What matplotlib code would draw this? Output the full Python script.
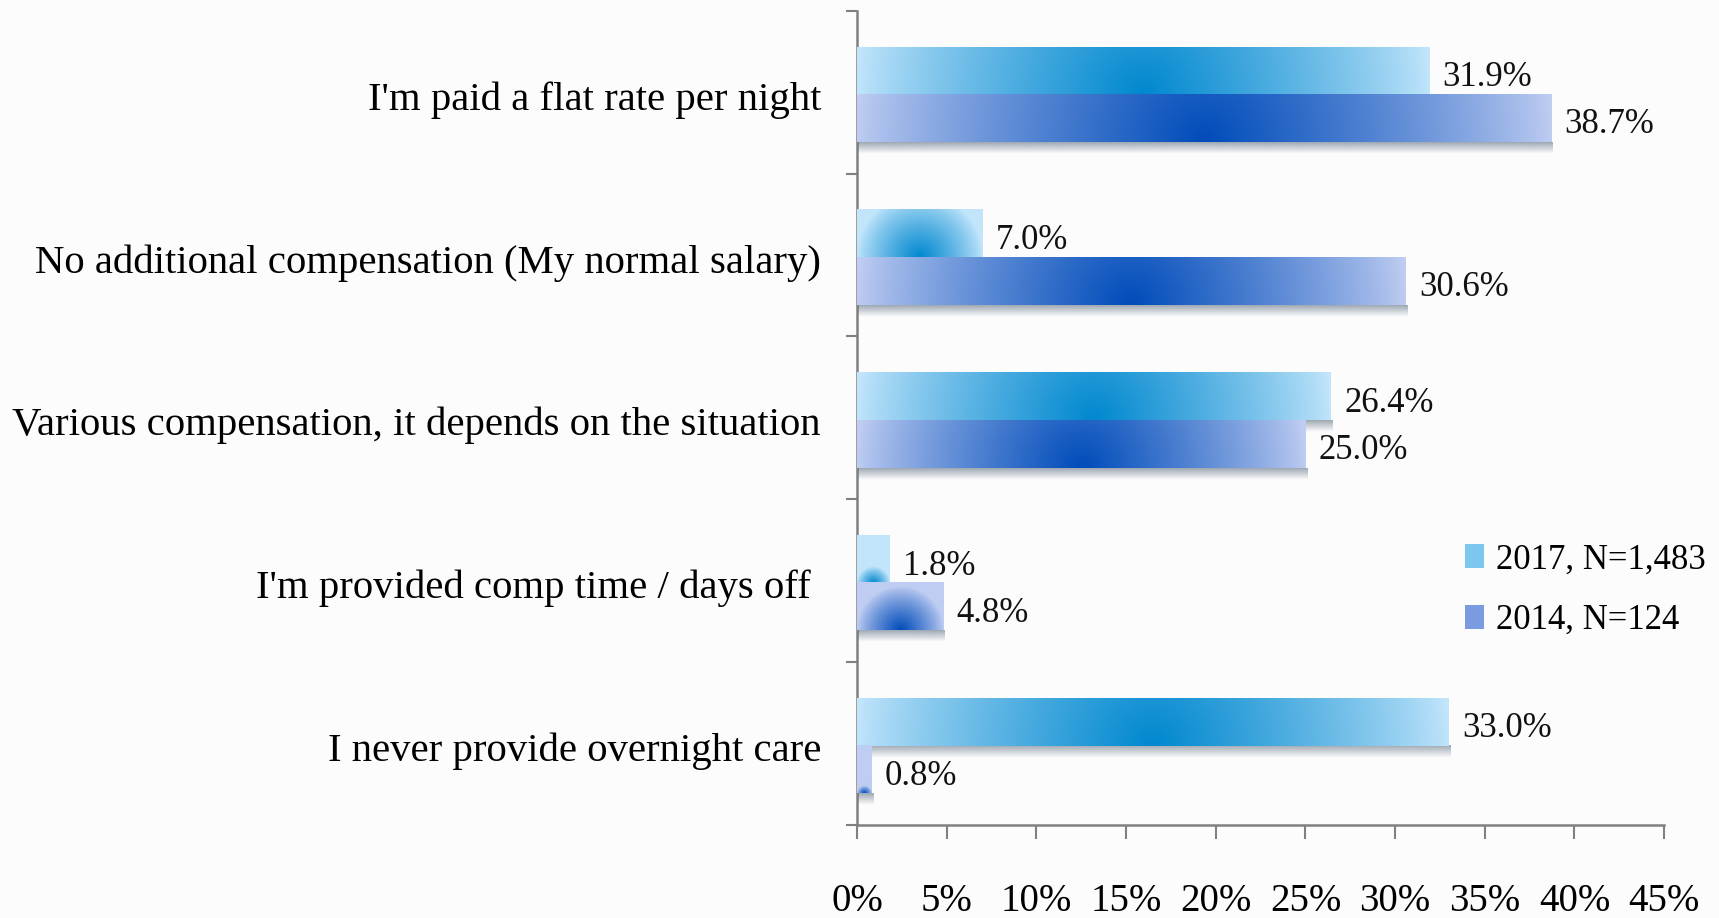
import numpy as np
import matplotlib
matplotlib.use("Agg")
import matplotlib.pyplot as plt
from matplotlib.colors import to_rgb
from matplotlib.patches import Patch

categories = ["I'm paid a flat rate per night",
              "No additional compensation (My normal salary)",
              "Various compensation, it depends on the situation",
              "I'm provided comp time / days off ",
              "I never provide overnight care"]
v2017 = [31.9, 7.0, 26.4, 1.8, 33.0]
v2014 = [38.7, 30.6, 25.0, 4.8, 0.8]
series = ["2017, N=1,483", "2014, N=124"]
xticks = [0, 5, 10, 15, 20, 25, 30, 35, 40, 45]

edge_cols = ["#C2E5FB", "#BFCDF2"]
dark_cols = ["#0088CF", "#004CBA"]

FONT = "Liberation Serif"
FS = 25

fig = plt.figure(figsize=(17.19, 9.18), dpi=100)
fig.patch.set_facecolor("#FCFCFC")
ax = fig.add_axes([0.4986, 0.1013, 0.4695, 0.887])
ax.set_facecolor("#FCFCFC")
ax.set_xlim(0, 45)
ax.set_ylim(len(categories) - 0.5, -0.5)

h = 0.29
y = np.arange(len(categories)) + 0.015

# pixel scale for the radial gradient
p0 = ax.transData.transform((0, 0))
p1 = ax.transData.transform((1, 1))
sx = abs(p1[0] - p0[0])
sy = abs(p1[1] - p0[1])


def grad_bar(x0, w, yc, light, dark, z):
    if w <= 0:
        return
    wp = w * sx
    hp = h * sy
    nx = max(int(wp), 2)
    ny = max(int(hp), 2)
    xs = (np.arange(nx) + 0.5) / nx * wp
    ys = (np.arange(ny) + 0.5) / ny * hp  # from top
    X, Y = np.meshgrid(xs, ys)
    d = np.sqrt((X - wp / 2) ** 2 + (hp - Y) ** 2) / (wp / 2)
    t = np.clip(1 - d, 0, 1)
    t = t ** 0.85
    l = np.array(to_rgb(light))
    dk = np.array(to_rgb(dark))
    img = l[None, None, :] + (dk - l)[None, None, :] * t[:, :, None]
    ax.imshow(img, extent=(x0, x0 + w, yc + h / 2, yc - h / 2),
              aspect="auto", zorder=z, interpolation="bilinear")


def shadow(x0, w, yc, z):
    n = 20
    sh = 12 / sy
    a = np.linspace(0.55, 0.0, n)[:, None]
    img = np.zeros((n, 2, 4))
    img[..., 0] = 0.33
    img[..., 1] = 0.40
    img[..., 2] = 0.48
    img[..., 3] = a
    ax.imshow(img, extent=(x0 + 0.05, x0 + w + 0.1, yc + h / 2 + sh, yc + h / 2),
              aspect="auto", zorder=z, interpolation="bilinear")


offs = [-h / 2, h / 2]
for k, vals in enumerate([v2017, v2014]):
    for i, v in enumerate(vals):
        yc = y[i] + offs[k]
        shadow(0, v, yc, 2 + 2 * k)
        grad_bar(0, v, yc, edge_cols[k], dark_cols[k], 3 + 2 * k)
        ax.text(v + 0.75, yc + 0.04, f"{v:.1f}%", fontsize=FS, family=FONT,
                va="center", ha="left", color="#111111", zorder=10)

ax.set_xlim(0, 45)
ax.set_ylim(len(categories) - 0.5, -0.5)

ax.set_xticks(xticks)
ax.set_xticklabels([f"{t}%" for t in xticks], fontsize=28, family=FONT)
ax.set_yticks(np.arange(len(categories)) + 0.02)
ax.set_yticklabels(categories, fontsize=29.3, family=FONT)
ax.set_yticks(np.arange(len(categories) + 1) - 0.5, minor=True)
ax.tick_params(axis="y", which="major", length=0, pad=26)
ax.tick_params(axis="y", which="minor", length=8, width=1.5, color="#808080")
ax.tick_params(axis="x", which="major", length=10, width=1.5, color="#808080", pad=32)

for s in ["top", "right"]:
    ax.spines[s].set_visible(False)
for s in ["left", "bottom"]:
    ax.spines[s].set_color("#808080")
    ax.spines[s].set_linewidth(1.8)

handles = [Patch(facecolor="#7CC6F0", edgecolor="none"),
           Patch(facecolor="#7B9BE0", edgecolor="none")]
fig.legend(handles, series, loc="center left", bbox_to_anchor=(0.834, 0.357),
           frameon=False, prop={"family": FONT, "size": FS},
           handlelength=0.55, handleheight=0.7, handletextpad=0.35, labelspacing=0.8)

fig.savefig("out.png", dpi=100, facecolor=fig.get_facecolor())
